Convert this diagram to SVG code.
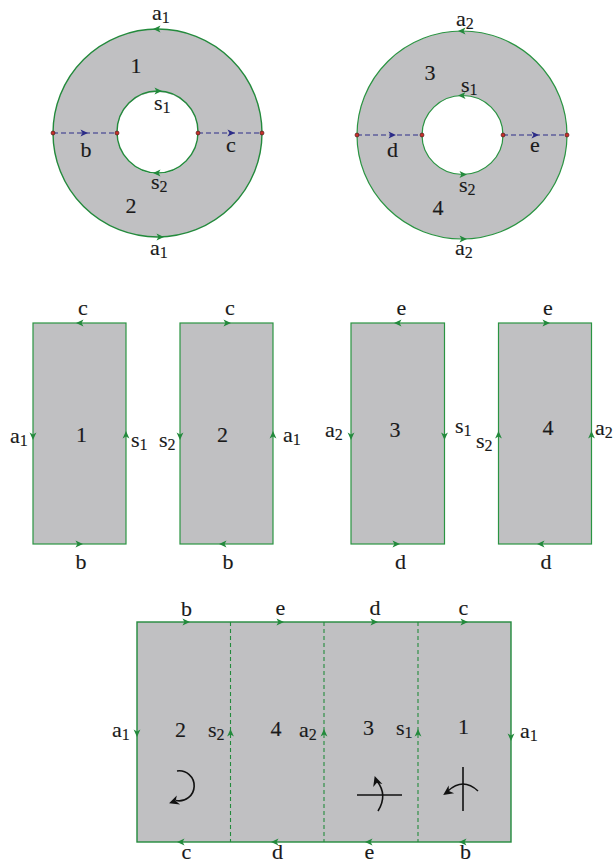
<svg xmlns="http://www.w3.org/2000/svg" width="614" height="864" viewBox="0 0 614 864">
<style>
.bg{fill:#ffffff}
.face{fill:#c0c0c2}
.edge{fill:none;stroke:#238a3c;stroke-width:1.4}
.edge2{fill:none;stroke:#2a9442;stroke-width:1.2}
.gdash{fill:none;stroke:#238a3c;stroke-width:1.1;stroke-dasharray:4 3}
.bdash{fill:none;stroke:#2c2c88;stroke-width:1.1;stroke-dasharray:5 3}
.ga{fill:#238a3c}
.ba{fill:#2c2c88}
.ka{fill:#111111}
.kl{fill:none;stroke:#111111;stroke-width:1.6}
.dot{fill:#c8302a;stroke:#3a1010;stroke-width:0.6}
text{fill:#1a1a1a;stroke:#1a1a1a;stroke-width:0.15}
.c{text-anchor:middle}
tspan.s{font-size:16px}
</style>
<defs>
<path id="ah" d="M4,0 L-3.5,-3.4 L-1.6,0 L-3.5,3.4 Z"/>
<path id="kh" d="M1,0 L-9,-4.8 L-6,0 L-9,4.8 Z"/>
</defs>
<rect class="bg" x="0" y="0" width="614" height="864"/>
<g font-family="'Liberation Serif', 'Times New Roman', serif" font-size="22">

<g id="annulus-left">
<path class="face" fill-rule="evenodd" d="M53,133 A104.5,104 0 1 0 262,133 A104.5,104 0 1 0 53,133 Z M117,133 A40.5,41 0 1 0 198,133 A40.5,41 0 1 0 117,133 Z"/>
<ellipse class="edge" cx="157.5" cy="133" rx="104.5" ry="104"/>
<ellipse class="edge" cx="157.5" cy="132" rx="40.5" ry="41"/>
<line class="bdash" x1="53" y1="133" x2="117" y2="133"/>
<line class="bdash" x1="198" y1="133" x2="262" y2="133"/>
<use href="#ah" class="ba" transform="translate(84,133)"/>
<use href="#ah" class="ba" transform="translate(231,133)"/>
<use href="#ah" class="ga" transform="translate(157,29) rotate(180)"/>
<use href="#ah" class="ga" transform="translate(160,237)"/>
<use href="#ah" class="ga" transform="translate(158,91)"/>
<use href="#ah" class="ga" transform="translate(157,173) rotate(180)"/>
<circle class="dot" cx="53" cy="133" r="2"/>
<circle class="dot" cx="117" cy="133" r="2"/>
<circle class="dot" cx="198" cy="133" r="2"/>
<circle class="dot" cx="262" cy="133" r="2"/>
<text x="152" y="20">a<tspan class="s" dy="3">1</tspan></text>
<text class="c" x="136" y="73">1</text>
<text x="154" y="110">s<tspan class="s" dy="3">1</tspan></text>
<text class="c" x="86" y="157">b</text>
<text class="c" x="231" y="152">c</text>
<text x="151" y="189">s<tspan class="s" dy="3">2</tspan></text>
<text class="c" x="131" y="213">2</text>
<text x="150" y="255">a<tspan class="s" dy="3">1</tspan></text>
</g>

<g id="annulus-right">
<path class="face" fill-rule="evenodd" d="M357,135 A105,104 0 1 0 567,135 A105,104 0 1 0 357,135 Z M422,135 A40.5,39.5 0 1 0 503,135 A40.5,39.5 0 1 0 422,135 Z"/>
<ellipse class="edge2" cx="462" cy="135" rx="105" ry="104"/>
<ellipse class="edge2" cx="462.5" cy="135" rx="40.5" ry="39.5"/>
<line class="bdash" x1="357" y1="135" x2="422" y2="135"/>
<line class="bdash" x1="503" y1="135" x2="567" y2="135"/>
<use href="#ah" class="ba" transform="translate(392,135)"/>
<use href="#ah" class="ba" transform="translate(535,135)"/>
<use href="#ah" class="ga" transform="translate(462,31) rotate(180)"/>
<use href="#ah" class="ga" transform="translate(463,239)"/>
<use href="#ah" class="ga" transform="translate(462,95.5) rotate(180)"/>
<use href="#ah" class="ga" transform="translate(463,174.5)"/>
<circle class="dot" cx="357" cy="135" r="2"/>
<circle class="dot" cx="422" cy="135" r="2"/>
<circle class="dot" cx="503" cy="135" r="2"/>
<circle class="dot" cx="567" cy="135" r="2"/>
<text x="456" y="26">a<tspan class="s" dy="3">2</tspan></text>
<text class="c" x="430" y="80">3</text>
<text x="461" y="92">s<tspan class="s" dy="3">1</tspan></text>
<text class="c" x="392.5" y="157">d</text>
<text class="c" x="535" y="152">e</text>
<text x="459" y="192">s<tspan class="s" dy="3">2</tspan></text>
<text class="c" x="438" y="215">4</text>
<text x="455" y="255">a<tspan class="s" dy="3">2</tspan></text>
</g>

<g id="rect-1">
<rect class="face" x="33" y="323" width="93" height="221"/>
<rect class="edge2" x="33" y="323" width="93" height="221"/>
<use href="#ah" class="ga" transform="translate(80,323) rotate(180)"/>
<use href="#ah" class="ga" transform="translate(79,544)"/>
<use href="#ah" class="ga" transform="translate(33,436) rotate(90)"/>
<use href="#ah" class="ga" transform="translate(126,435) rotate(-90)"/>
<text class="c" x="83" y="315">c</text>
<text class="c" x="81" y="569">b</text>
<text x="10" y="443">a<tspan class="s" dy="3">1</tspan></text>
<text class="c" x="81.5" y="442">1</text>
<text x="131" y="447">s<tspan class="s" dy="3">1</tspan></text>
</g>

<g id="rect-2">
<rect class="face" x="180" y="323" width="93" height="221"/>
<rect class="edge2" x="180" y="323" width="93" height="221"/>
<use href="#ah" class="ga" transform="translate(227,323)"/>
<use href="#ah" class="ga" transform="translate(223,544) rotate(180)"/>
<use href="#ah" class="ga" transform="translate(180,436) rotate(90)"/>
<use href="#ah" class="ga" transform="translate(273,435) rotate(-90)"/>
<text class="c" x="230" y="315">c</text>
<text class="c" x="228" y="569">b</text>
<text x="159" y="447">s<tspan class="s" dy="3">2</tspan></text>
<text class="c" x="222.5" y="442">2</text>
<text x="283" y="442">a<tspan class="s" dy="3">1</tspan></text>
</g>

<g id="rect-3">
<rect class="face" x="351" y="323" width="93.5" height="221"/>
<rect class="edge2" x="351" y="323" width="93.5" height="221"/>
<use href="#ah" class="ga" transform="translate(398,323) rotate(180)"/>
<use href="#ah" class="ga" transform="translate(396,544)"/>
<use href="#ah" class="ga" transform="translate(351,436) rotate(90)"/>
<use href="#ah" class="ga" transform="translate(444.5,436) rotate(90)"/>
<text class="c" x="401.5" y="315">e</text>
<text class="c" x="400.5" y="569">d</text>
<text x="325" y="437">a<tspan class="s" dy="3">2</tspan></text>
<text class="c" x="395" y="437">3</text>
<text x="455" y="433">s<tspan class="s" dy="3">1</tspan></text>
</g>

<g id="rect-4">
<rect class="face" x="498.5" y="323" width="93" height="221"/>
<rect class="edge2" x="498.5" y="323" width="93" height="221"/>
<use href="#ah" class="ga" transform="translate(546,323)"/>
<use href="#ah" class="ga" transform="translate(541,544) rotate(180)"/>
<use href="#ah" class="ga" transform="translate(498.5,435) rotate(-90)"/>
<use href="#ah" class="ga" transform="translate(591.5,435) rotate(-90)"/>
<text class="c" x="548" y="315">e</text>
<text class="c" x="546" y="569">d</text>
<text x="476" y="448">s<tspan class="s" dy="3">2</tspan></text>
<text class="c" x="548" y="435">4</text>
<text x="595" y="435">a<tspan class="s" dy="3">2</tspan></text>
</g>

<g id="strip">
<rect class="face" x="137" y="622" width="374" height="220"/>
<rect class="edge" x="137" y="622" width="374" height="220"/>
<line class="gdash" x1="230.5" y1="622" x2="230.5" y2="842"/>
<line class="gdash" x1="324" y1="622" x2="324" y2="842"/>
<line class="gdash" x1="418" y1="622" x2="418" y2="842"/>
<use href="#ah" class="ga" transform="translate(186,622)"/>
<use href="#ah" class="ga" transform="translate(280,622)"/>
<use href="#ah" class="ga" transform="translate(374,622)"/>
<use href="#ah" class="ga" transform="translate(464,622)"/>
<use href="#ah" class="ga" transform="translate(181,842) rotate(180)"/>
<use href="#ah" class="ga" transform="translate(275,842) rotate(180)"/>
<use href="#ah" class="ga" transform="translate(369,842) rotate(180)"/>
<use href="#ah" class="ga" transform="translate(463,842) rotate(180)"/>
<use href="#ah" class="ga" transform="translate(137,733) rotate(90)"/>
<use href="#ah" class="ga" transform="translate(230.5,733) rotate(-90)"/>
<use href="#ah" class="ga" transform="translate(324,733) rotate(-90)"/>
<use href="#ah" class="ga" transform="translate(418,733) rotate(-90)"/>
<use href="#ah" class="ga" transform="translate(511,737) rotate(90)"/>
<text class="c" x="186.5" y="616">b</text>
<text class="c" x="280.5" y="615">e</text>
<text class="c" x="375" y="615">d</text>
<text class="c" x="463.5" y="615">c</text>
<text class="c" x="186.5" y="859">c</text>
<text class="c" x="277.5" y="859">d</text>
<text class="c" x="369.5" y="859">e</text>
<text class="c" x="465.5" y="859">b</text>
<text x="112" y="737">a<tspan class="s" dy="3">1</tspan></text>
<text class="c" x="180.5" y="737">2</text>
<text x="208" y="737">s<tspan class="s" dy="3">2</tspan></text>
<text class="c" x="276" y="736">4</text>
<text x="299" y="737">a<tspan class="s" dy="3">2</tspan></text>
<text class="c" x="368.5" y="735">3</text>
<text x="396" y="735">s<tspan class="s" dy="3">1</tspan></text>
<text class="c" x="463.5" y="734">1</text>
<text x="520" y="738">a<tspan class="s" dy="3">1</tspan></text>
<path class="kl" d="M177,771 A15,15 0 1 1 176,800.5"/>
<use href="#kh" class="ka" transform="translate(170,803) rotate(160)"/>
<line class="kl" x1="357" y1="795" x2="402" y2="795"/>
<path class="kl" d="M378,811 Q388,795 377,781"/>
<use href="#kh" class="ka" transform="translate(375,777) rotate(-108)"/>
<line class="kl" x1="463" y1="767" x2="463" y2="811"/>
<path class="kl" d="M478,791 Q463,777 448,791"/>
<use href="#kh" class="ka" transform="translate(444,794.5) rotate(145)"/>
</g>
</g>
</svg>
